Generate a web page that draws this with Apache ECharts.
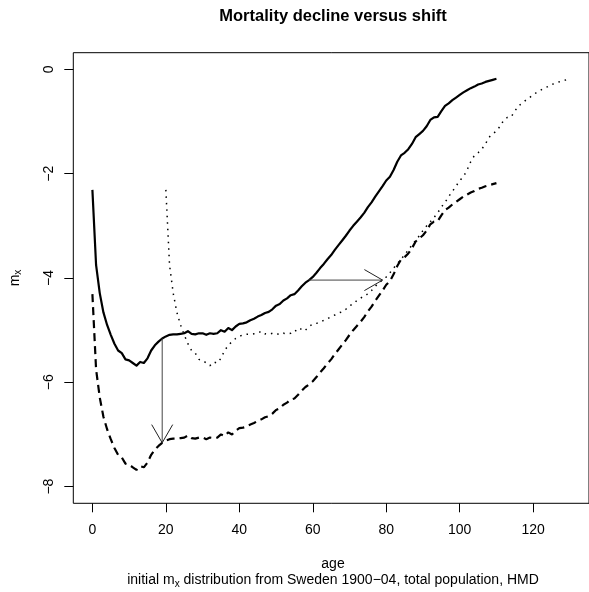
<!DOCTYPE html>
<html>
<head>
<meta charset="utf-8">
<script src="https://cdn.jsdelivr.net/npm/echarts@6/dist/echarts.min.js"></script>
<style>
html,body{margin:0;padding:0;background:#fff;}
#chart{width:589px;height:592px;}
</style>
</head>
<body>
<div id="chart"></div>
<script>
// ---- data ----
const ages = [0,1,2,3,4,5,6,7,8,9,10,11,12,13,14,15,16,17,18,19,20,21,22,23,24,25,26,27,28,29,30,31,32,33,34,35,36,37,38,39,40,41,42,43,44,45,46,47,48,49,50,51,52,53,54,55,56,57,58,59,60,61,62,63,64,65,66,67,68,69,70,71,72,73,74,75,76,77,78,79,80,81,82,83,84,85,86,87,88,89,90,91,92,93,94,95,96,97,98,99,100,101,102,103,104,105,106,107,108,109,110];

// initial log m_x (solid)
const logMxInitial = [-2.31,-3.75,-4.29,-4.66,-4.90,-5.09,-5.26,-5.39,-5.44,-5.56,-5.58,-5.63,-5.68,-5.61,-5.63,-5.54,-5.39,-5.29,-5.22,-5.16,-5.12,-5.09,-5.08,-5.08,-5.07,-5.06,-5.02,-5.07,-5.08,-5.06,-5.06,-5.09,-5.06,-5.07,-5.06,-5.00,-5.03,-4.96,-5.00,-4.93,-4.88,-4.87,-4.85,-4.81,-4.78,-4.74,-4.71,-4.67,-4.65,-4.60,-4.53,-4.50,-4.43,-4.39,-4.33,-4.31,-4.24,-4.16,-4.09,-4.04,-3.98,-3.90,-3.81,-3.73,-3.64,-3.56,-3.46,-3.37,-3.28,-3.19,-3.09,-3.00,-2.92,-2.84,-2.75,-2.64,-2.55,-2.44,-2.34,-2.24,-2.13,-2.06,-1.93,-1.77,-1.65,-1.60,-1.53,-1.43,-1.30,-1.24,-1.18,-1.09,-0.97,-0.92,-0.91,-0.80,-0.70,-0.65,-0.59,-0.54,-0.49,-0.44,-0.40,-0.36,-0.33,-0.29,-0.27,-0.24,-0.22,-0.20,-0.18];

// declined log m_x (dashed)
const logMxDecline = [-4.31,-5.75,-6.29,-6.66,-6.90,-7.09,-7.26,-7.39,-7.44,-7.56,-7.58,-7.63,-7.68,-7.61,-7.63,-7.54,-7.39,-7.29,-7.22,-7.16,-7.12,-7.09,-7.08,-7.08,-7.07,-7.06,-7.02,-7.07,-7.08,-7.06,-7.06,-7.09,-7.06,-7.07,-7.06,-7.00,-7.03,-6.96,-7.00,-6.93,-6.88,-6.87,-6.85,-6.81,-6.78,-6.74,-6.71,-6.67,-6.65,-6.60,-6.53,-6.50,-6.43,-6.39,-6.33,-6.31,-6.24,-6.16,-6.09,-6.04,-5.98,-5.90,-5.81,-5.73,-5.64,-5.56,-5.46,-5.37,-5.28,-5.19,-5.09,-5.00,-4.92,-4.84,-4.75,-4.64,-4.55,-4.44,-4.34,-4.24,-4.13,-4.06,-3.93,-3.77,-3.65,-3.60,-3.53,-3.43,-3.30,-3.24,-3.18,-3.09,-2.97,-2.92,-2.91,-2.80,-2.70,-2.65,-2.59,-2.54,-2.49,-2.44,-2.40,-2.36,-2.33,-2.29,-2.27,-2.24,-2.22,-2.20,-2.18];

// shifted schedule (dotted): ages and values
const agesShifted = [20,21,22,23,24,25,26,27,28,29,30,31,32,33,34,35,36,37,38,39,40,41,42,43,44,45,46,47,48,49,50,51,52,53,54,55,56,57,58,59,60,61,62,63,64,65,66,67,68,69,70,71,72,73,74,75,76,77,78,79,80,81,82,83,84,85,86,87,88,89,90,91,92,93,94,95,96,97,98,99,100,101,102,103,104,105,106,107,108,109,110,111,112,113,114,115,116,117,118,119,120,121,122,123,124,125,126,127,128,129,130];
const logMxShift = [-2.31,-3.75,-4.29,-4.66,-4.90,-5.09,-5.26,-5.39,-5.44,-5.56,-5.58,-5.63,-5.68,-5.61,-5.63,-5.54,-5.39,-5.29,-5.22,-5.16,-5.12,-5.09,-5.08,-5.08,-5.07,-5.06,-5.02,-5.07,-5.08,-5.06,-5.06,-5.09,-5.06,-5.07,-5.06,-5.00,-5.03,-4.96,-5.00,-4.93,-4.88,-4.87,-4.85,-4.81,-4.78,-4.74,-4.71,-4.67,-4.65,-4.60,-4.53,-4.50,-4.43,-4.39,-4.33,-4.31,-4.24,-4.16,-4.09,-4.04,-3.98,-3.90,-3.81,-3.73,-3.64,-3.56,-3.46,-3.37,-3.28,-3.19,-3.09,-3.00,-2.92,-2.84,-2.75,-2.64,-2.55,-2.44,-2.34,-2.24,-2.13,-2.06,-1.93,-1.77,-1.65,-1.60,-1.53,-1.43,-1.30,-1.24,-1.18,-1.09,-0.97,-0.92,-0.91,-0.80,-0.70,-0.65,-0.59,-0.54,-0.49,-0.44,-0.40,-0.36,-0.33,-0.29,-0.27,-0.24,-0.22,-0.20,-0.18];

// arrows: [fromAge, fromValue, toAge, toValue]
const arrowDecline = [19, -5.16, 19, -7.16];
const arrowShift = [59, -4.04, 79, -4.04];

const xTicks = [0, 20, 40, 60, 80, 100, 120];
const yTicks = [-8, -6, -4, -2, 0];

// ---- chart ----
const FONT = "'Liberation Sans', Arial, Helvetica, sans-serif";
const chart = echarts.init(document.getElementById('chart'), null, {renderer: 'canvas'});

function pairs(xs, ys) { return xs.map((x, i) => [x, ys[i]]); }
function fmt(v) { return v < 0 ? '\u2212' + Math.abs(v) : String(v); }

const option = {
  animation: false,
  backgroundColor: '#ffffff',
  grid: {
    show: true, left: 73.3, top: 52.7, width: 519.2, height: 450.6,
    borderColor: '#000', borderWidth: 1, backgroundColor: 'transparent'
  },
  xAxis: {
    type: 'value', min: -5.2, max: 135.2,
    axisLine: {show: false, onZero: false},
    splitLine: {show: false},
    axisTick: {show: true, customValues: xTicks, length: 9, lineStyle: {color: '#000', width: 1}},
    axisLabel: {customValues: xTicks, formatter: fmt, fontSize: 14, fontFamily: FONT, color: '#000', margin: 20}
  },
  yAxis: {
    type: 'value', min: -8.32, max: 0.32,
    axisLine: {show: false, onZero: false},
    splitLine: {show: false},
    axisTick: {show: true, customValues: yTicks, length: 9, lineStyle: {color: '#000', width: 1}},
    axisLabel: {customValues: yTicks, formatter: fmt, fontSize: 14, fontFamily: FONT, color: '#000', margin: 17.5, rotate: 90}
  },
  series: [
    {
      type: 'line', name: 'initial', data: pairs(ages, logMxInitial), showSymbol: false,
      lineStyle: {color: '#000', width: 2.2, join: 'round'}
    },
    {
      type: 'line', name: 'decline', data: pairs(ages, logMxDecline), showSymbol: false,
      lineStyle: {color: '#000', width: 2.2, type: [8, 5], cap: 'butt'}
    },
    {
      type: 'line', name: 'shift', data: pairs(agesShifted, logMxShift), showSymbol: false,
      lineStyle: {color: '#000', width: 1.5, type: [1.5, 5], cap: 'butt'}
    },
    {
      type: 'custom', name: 'arrows',
      data: [arrowDecline, arrowShift],
      encode: {x: [0, 2], y: [1, 3]},
      renderItem: function (params, api) {
        const p0 = api.coord([api.value(0), api.value(1)]);
        const p1 = api.coord([api.value(2), api.value(3)]);
        const ang = Math.atan2(p1[1] - p0[1], p1[0] - p0[0]);
        const L = 21, a = Math.PI / 6;
        const h1 = [p1[0] - L * Math.cos(ang - a), p1[1] - L * Math.sin(ang - a)];
        const h2 = [p1[0] - L * Math.cos(ang + a), p1[1] - L * Math.sin(ang + a)];
        return {
          type: 'group',
          children: [
            {type: 'line', shape: {x1: p0[0], y1: p0[1], x2: p1[0], y2: p1[1]}, style: {stroke: '#444', lineWidth: 1}},
            {type: 'polyline', shape: {points: [h1, p1, h2]}, style: {stroke: '#222', lineWidth: 1, fill: null}}
          ]
        };
      },
      z: 5
    }
  ],
  graphic: [
    {type: 'text', x: 333, y: 16, style: {text: 'Mortality decline versus shift', font: 'bold 16.5px ' + FONT, fill: '#000', textAlign: 'center', textVerticalAlign: 'middle'}},
    {type: 'text', x: 333, y: 564, style: {text: 'age', font: '14px ' + FONT, fill: '#000', textAlign: 'center', textVerticalAlign: 'middle'}},
    {type: 'text', x: 333, y: 580.5, style: {
      text: 'initial m{s|x} distribution from Sweden 1900\u221204, total population, HMD',
      font: '14px ' + FONT, fill: '#000', textAlign: 'center', textVerticalAlign: 'middle',
      rich: {s: {fontSize: 10, fontFamily: FONT, fill: '#000', verticalAlign: 'bottom', padding: [7, 0, 0, 0]}}
    }},
    {type: 'text', x: 15, y: 278, rotation: Math.PI / 2, style: {
      text: 'm{s|x}', font: '14px ' + FONT, fill: '#000', textAlign: 'center', textVerticalAlign: 'middle',
      rich: {s: {fontSize: 10, fontFamily: FONT, fill: '#000', verticalAlign: 'bottom', padding: [7, 0, 0, 0]}}
    }}
  ]
};
chart.setOption(option);
</script>
</body>
</html>
